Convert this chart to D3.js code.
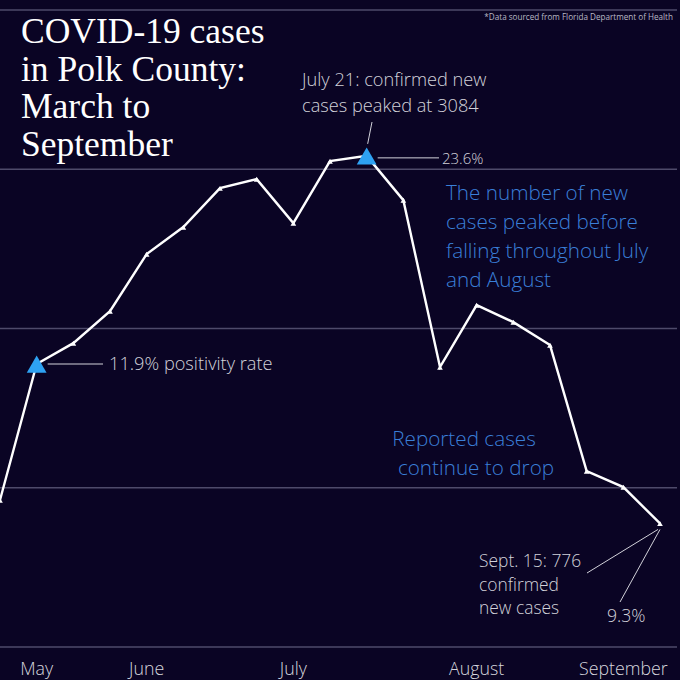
<!DOCTYPE html>
<html>
<head>
<meta charset="utf-8">
<script src="https://cdn.jsdelivr.net/npm/d3@7"></script>
<style>
  html, body { margin: 0; padding: 0; background: #0a0424; }
  svg { display: block; }
</style>
</head>
<body>
<script>
// ---- data ----
const weeks = ["May 12","May 19","May 26","Jun 2","Jun 9","Jun 16","Jun 23","Jun 30","Jul 7","Jul 14","Jul 21","Jul 28","Aug 4","Aug 11","Aug 18","Aug 25","Sep 1","Sep 8","Sep 15"];
const newCases = [923, 1777, 1908, 2109, 2467, 2637, 2881, 2938, 2662, 3051, 3084, 2806, 1758, 2147, 2040, 1896, 1105, 1004, 776];
const monthLabels = ["May","June","July","August","September"];
const monthLabelWeeks = ["May 19","Jun 9","Jul 7","Aug 11","Sep 8"];
const yTicks = [0, 1000, 2000, 3000, 4000];
const highlightWeeks = ["May 19","Jul 21"];

const W = 680, H = 680;
const svg = d3.select("body").append("svg").attr("width", W).attr("height", H);
svg.append("rect").attr("width", W).attr("height", H).attr("fill", "#0a0424");

const x = d3.scalePoint().domain(weeks).range([0, 660]);
const y = d3.scaleLinear().domain([0, 4000]).range([647, 10]);

// gridlines
svg.append("g").selectAll("line").data(yTicks).join("line")
  .attr("x1", 0).attr("x2", 677)
  .attr("y1", d => y(d)).attr("y2", d => y(d))
  .attr("stroke", "#4e4a6a").attr("stroke-width", 1.5);

// month labels
svg.append("g").selectAll("text").data(monthLabels).join("text")
  .attr("x", (d, i) => x(monthLabelWeeks[i]))
  .attr("y", 675)
  .attr("text-anchor", "middle")
  .attr("font-family", "Open Sans")
  .attr("font-weight", 300)
  .attr("font-size", 17.8)
  .attr("fill", "#d6d6de")
  .text(d => d);

// line
const data = weeks.map((w, i) => ({ w, v: newCases[i] }));
svg.append("path").datum(data)
  .attr("fill", "none").attr("stroke", "#ffffff").attr("stroke-width", 2.4)
  .attr("stroke-linejoin", "miter")
  .attr("d", d3.line().x(d => x(d.w)).y(d => y(d.v)));

// small markers
const tri = d3.symbol().type(d3.symbolTriangle);
svg.append("g").selectAll("path").data(data.filter(d => !highlightWeeks.includes(d.w))).join("path")
  .attr("transform", d => `translate(${x(d.w)},${y(d.v) + 1})`)
  .attr("d", tri.size(14)())
  .attr("fill", "#ffffff");

// highlight triangles
svg.append("g").selectAll("path").data(data.filter(d => highlightWeeks.includes(d.w))).join("path")
  .attr("transform", d => `translate(${x(d.w)},${y(d.v) + 3})`)
  .attr("d", tri.size(170)())
  .attr("fill", "#2ea2f2");

const gray = "#d2d2da";
function textLines(lines, x0, y0, lh, opts) {
  const t = svg.append("text")
    .attr("font-family", "Open Sans")
    .attr("font-weight", 300)
    .attr("font-size", opts.size)
    .attr("fill", opts.fill)
    .attr("text-anchor", opts.anchor || "start");
  lines.forEach((l, i) => t.append("tspan")
    .attr("x", Array.isArray(x0) ? x0[i] : x0).attr("y", y0 + i * lh).text(l));
  return t;
}

// title
const title = svg.append("text")
  .attr("font-family", "Liberation Serif")
  .attr("font-size", 35.5)
  .attr("fill", "#ffffff");
["COVID-19 cases", "in Polk County:", "March to", "September"].forEach((l, i) =>
  title.append("tspan").attr("x", 21).attr("y", 43 + i * 37.7).text(l));

// source
svg.append("text").attr("x", 673).attr("y", 20).attr("text-anchor", "end")
  .attr("font-family", "Open Sans").attr("font-size", 8.15).attr("fill", "#b8b8c4")
  .text("*Data sourced from Florida Department of Health");

// May 19 annotation
const p2x = x("May 19"), p2y = y(newCases[1]);
svg.append("line").attr("x1", p2x + 11).attr("x2", 103).attr("y1", p2y).attr("y2", p2y)
  .attr("stroke", gray).attr("stroke-width", 1);
textLines(["11.9% positivity rate"], 109, p2y + 6, 0, { size: 18.2, fill: gray });

// peak annotation
const pkx = x("Jul 21"), pky = y(newCases[10]);
svg.append("line").attr("x1", 372).attr("y1", 122).attr("x2", pkx + 1).attr("y2", pky - 12)
  .attr("stroke", gray).attr("stroke-width", 1);
svg.append("line").attr("x1", pkx + 11).attr("x2", 439).attr("y1", pky + 2).attr("y2", pky + 2)
  .attr("stroke", gray).attr("stroke-width", 1);
textLines(["23.6%"], 442, pky + 8, 0, { size: 15, fill: gray });
textLines(["July 21: confirmed new", "cases peaked at 3084"], 302, 86, 26, { size: 18.2, fill: gray });

// blue notes
const blue = "#3a7fd8";
textLines(["The number of new", "cases peaked before", "falling throughout July", "and August"], 446, 200, 29, { size: 20.7, fill: blue });
textLines(["Reported cases", "continue to drop"], [464, 476], 446, 29, { size: 20.7, fill: blue, anchor: "middle" });

// Sept 15 annotation
const lx = x("Sep 15"), ly = y(newCases[18]);
svg.append("line").attr("x1", 587).attr("y1", 573).attr("x2", lx - 2).attr("y2", ly + 6)
  .attr("stroke", gray).attr("stroke-width", 1);
svg.append("line").attr("x1", 620).attr("y1", 602).attr("x2", lx).attr("y2", ly + 6)
  .attr("stroke", gray).attr("stroke-width", 1);
textLines(["Sept. 15: 776", "confirmed", "new cases"], 479, 567, 23.5, { size: 17.4, fill: gray });
textLines(["9.3%"], 607, 622, 0, { size: 17.6, fill: gray });
</script>
</body>
</html>
